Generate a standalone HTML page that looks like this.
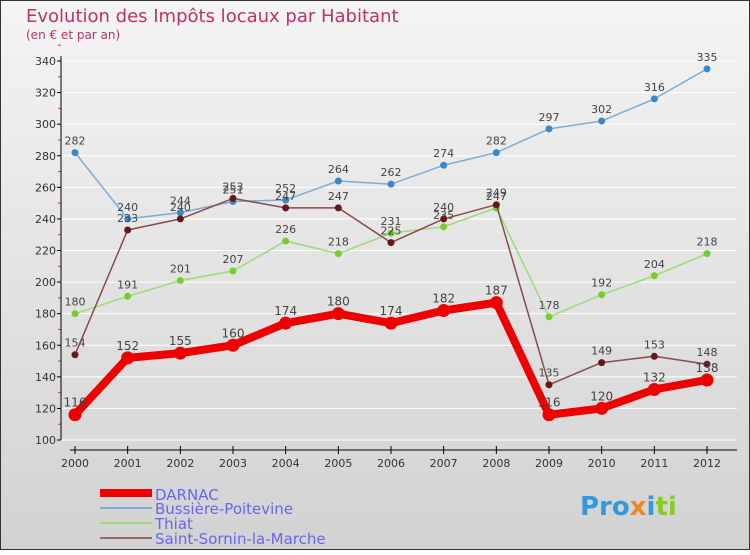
<!DOCTYPE html>
<html><head><meta charset="utf-8"><style>
body{margin:0;}
svg text{font-family:"DejaVu Sans","Liberation Sans",sans-serif;}
</style></head><body>
<svg id="c" width="750" height="550" xmlns="http://www.w3.org/2000/svg">
<defs><linearGradient id="bg" x1="0" y1="0" x2="0" y2="1"><stop offset="0" stop-color="#f4f4f4"/><stop offset="1" stop-color="#d2d2d2"/></linearGradient></defs>
<rect x="0.5" y="0.5" width="749" height="549" fill="url(#bg)" stroke="#333"/>
<text x="26" y="22" font-size="18" fill="#c0306a">Evolution des Impôts locaux par Habitant</text>
<text x="26" y="39" font-size="12" fill="#c0306a">(en € et par an)</text>
<g id="grid"></g><g id="axes"></g><g id="series"></g>
<g>
<rect x="100" y="489" width="52" height="8" fill="#ee0000"/>
<text x="155" y="500" font-size="15" fill="#6666ee">DARNAC</text>
<rect x="100" y="507" width="52" height="2" fill="#7aaed8"/>
<text x="155" y="514" font-size="15" fill="#6666ee">Bussière-Poitevine</text>
<rect x="100" y="522" width="52" height="2" fill="#99dd77"/>
<text x="155" y="529" font-size="15" fill="#6666ee">Thiat</text>
<rect x="100" y="537" width="52" height="2" fill="#996666"/>
<text x="155" y="544" font-size="15" fill="#6666ee">Saint-Sornin-la-Marche</text>
</g>
<text x="580" y="515" font-size="26" font-weight="bold" fill="#3399dd">Pro<tspan fill="#ee8822">x</tspan><tspan fill="#3399dd">i</tspan><tspan fill="#88cc22">ti</tspan></text>
</svg>
<script>
const years=[2000,2001,2002,2003,2004,2005,2006,2007,2008,2009,2010,2011,2012];
const yTicks=[100,120,140,160,180,200,220,240,260,280,300,320,340];
const darnac=[116,152,155,160,174,180,174,182,187,116,120,132,138];
const bussiere=[282,240,244,251,252,264,262,274,282,297,302,316,335];
const thiat=[180,191,201,207,226,218,231,235,247,178,192,204,218];
const sornin=[154,233,240,253,247,247,225,240,249,135,149,153,148];
const NS="http://www.w3.org/2000/svg";
const X=i=>75+i*(707-75)/12;
const Y=v=>440-(v-100)*(440-61)/240;
function mk(p,t,a){const e=document.createElementNS(NS,t);for(const k in a)e.setAttribute(k,a[k]);document.getElementById(p).appendChild(e);return e;}
yTicks.forEach(v=>{
 let g=mk('grid','line',{x1:61,x2:737,y1:Y(v),y2:Y(v),stroke:'#ffffff','stroke-width':1});
 
 
 let t=mk('axes','line',{x1:57,x2:61,y1:Y(v),y2:Y(v),stroke:'#000'});
 
 
 let m=mk('axes','line',{x1:58,x2:61,y1:Y(v+10),y2:Y(v+10),stroke:'#e33'});
 
 
 let l=mk('axes','text',{x:56,y:Y(v)+4,'font-size':11,fill:'#333','text-anchor':'end'});l.textContent=v;
 
 
});
let ya=mk('axes','line',{x1:61,x2:61,y1:56,y2:440,stroke:'#000'});


let xa=mk('axes','line',{x1:70,x2:737,y1:450,y2:450,stroke:'#000'});


years.forEach((y,i)=>{
 let t=mk('axes','line',{x1:X(i),x2:X(i),y1:446,y2:454,stroke:'#000'});
 
 
 let l=mk('axes','text',{x:X(i),y:467,'font-size':11,fill:'#333','text-anchor':'middle'});l.textContent=y;
 
 
});
function series(name,vals,color,dot,w,r,fs){
 const pts=vals.map((v,i)=>X(i)+','+Y(v)).join(' ');
 let p=mk('series','polyline',{points:pts,fill:'none',stroke:color,'stroke-width':w,'stroke-linejoin':'round'});
 
 
 vals.forEach((v,i)=>{
  let c=mk('series','circle',{cx:X(i),cy:Y(v),r:r,fill:dot});
  
  
  let t=mk('series','text',{x:X(i),y:Y(v)-8,'font-size':fs,fill:'#444','text-anchor':'middle'});t.textContent=v;
  
  
 });
}
series('bussiere',bussiere,'#7aaed8','#3a88c8',1.5,3.5,11);
series('thiat',thiat,'#99dd77','#77cc33',1.5,3.5,11);
series('saint-sornin',sornin,'#8a4a4a','#661818',1.5,3.5,11);
series('darnac',darnac,'#ee0000','#ee0000',8,6.5,12);
</script>
</body></html>
